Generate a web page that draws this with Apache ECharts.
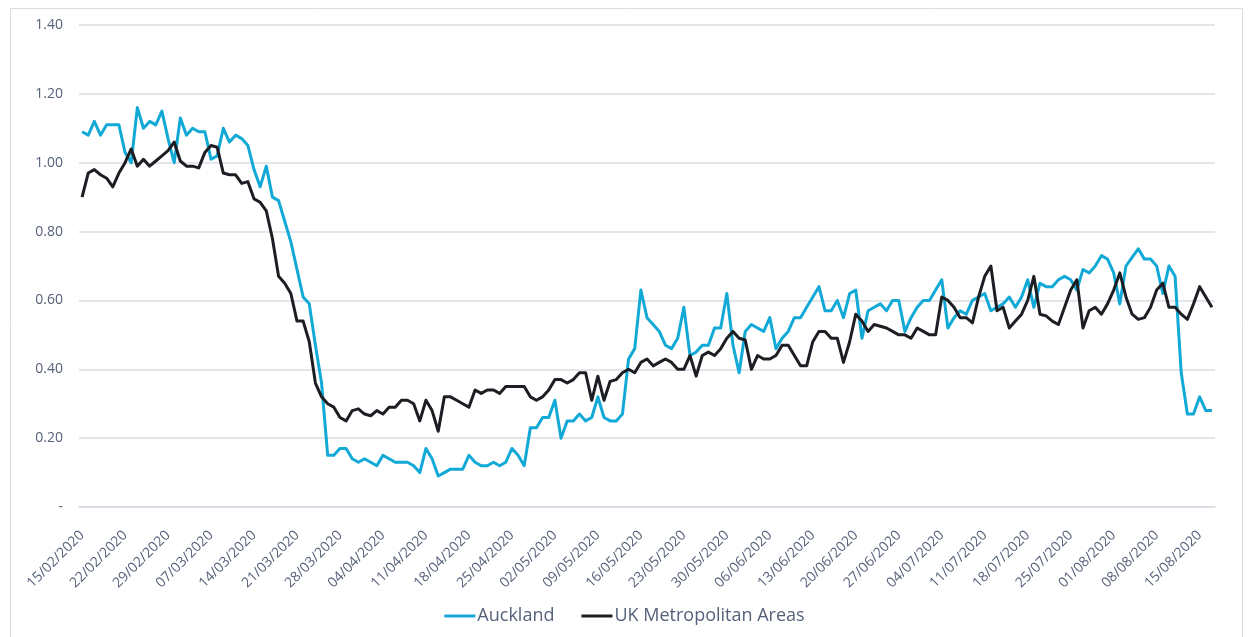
<!DOCTYPE html>
<html>
<head>
<meta charset="utf-8">
<script src="https://cdn.jsdelivr.net/npm/echarts@6/dist/echarts.min.js"></script>
<style>
  html, body { margin: 0; padding: 0; background: #fff; }
  #chart { width: 1249px; height: 637px; }
</style>
</head>
<body>
<div id="chart"></div>
<script>
// daily values, 15/02/2020 -> 17/08/2020
var startDate = [2020, 1, 15];
var auckland = [
    1.09, 1.08, 1.12, 1.08, 1.11, 1.11, 1.11, 1.03, 1.00, 1.16,
    1.10, 1.12, 1.11, 1.15, 1.07, 1.00, 1.13, 1.08, 1.10, 1.09,
    1.09, 1.01, 1.02, 1.10, 1.06, 1.08, 1.07, 1.05, 0.98, 0.93,
    0.99, 0.90, 0.89, 0.83, 0.77, 0.69, 0.61, 0.59, 0.47, 0.36,
    0.15, 0.15, 0.17, 0.17, 0.14, 0.13, 0.14, 0.13, 0.12, 0.15,
    0.14, 0.13, 0.13, 0.13, 0.12, 0.10, 0.17, 0.14, 0.09, 0.10,
    0.11, 0.11, 0.11, 0.15, 0.13, 0.12, 0.12, 0.13, 0.12, 0.13,
    0.17, 0.15, 0.12, 0.23, 0.23, 0.26, 0.26, 0.31, 0.20, 0.25,
    0.25, 0.27, 0.25, 0.26, 0.32, 0.26, 0.25, 0.25, 0.27, 0.43,
    0.46, 0.63, 0.55, 0.53, 0.51, 0.47, 0.46, 0.49, 0.58, 0.44,
    0.45, 0.47, 0.47, 0.52, 0.52, 0.62, 0.47, 0.39, 0.51, 0.53,
    0.52, 0.51, 0.55, 0.46, 0.49, 0.51, 0.55, 0.55, 0.58, 0.61,
    0.64, 0.57, 0.57, 0.60, 0.55, 0.62, 0.63, 0.49, 0.57, 0.58,
    0.59, 0.57, 0.60, 0.60, 0.51, 0.55, 0.58, 0.60, 0.60, 0.63,
    0.66, 0.52, 0.55, 0.57, 0.56, 0.60, 0.61, 0.62, 0.57, 0.58,
    0.59, 0.61, 0.58, 0.61, 0.66, 0.58, 0.65, 0.64, 0.64, 0.66,
    0.67, 0.66, 0.63, 0.69, 0.68, 0.70, 0.73, 0.72, 0.68, 0.59,
    0.70, 0.725, 0.75, 0.72, 0.72, 0.70, 0.62, 0.70, 0.67, 0.39,
    0.27, 0.27, 0.32, 0.28, 0.28
];
var ukMetro = [
    0.90, 0.97, 0.98, 0.965, 0.955, 0.93, 0.97, 1.00, 1.04, 0.99,
    1.01, 0.99, 1.005, 1.02, 1.035, 1.06, 1.005, 0.99, 0.99, 0.985,
    1.03, 1.05, 1.045, 0.97, 0.965, 0.965, 0.94, 0.945, 0.895, 0.885,
    0.86, 0.78, 0.67, 0.65, 0.62, 0.54, 0.54, 0.48, 0.36, 0.32,
    0.30, 0.29, 0.26, 0.25, 0.28, 0.285, 0.27, 0.265, 0.28, 0.27,
    0.29, 0.29, 0.31, 0.31, 0.30, 0.25, 0.31, 0.28, 0.22, 0.32,
    0.32, 0.31, 0.30, 0.29, 0.34, 0.33, 0.34, 0.34, 0.33, 0.35,
    0.35, 0.35, 0.35, 0.32, 0.31, 0.32, 0.34, 0.37, 0.37, 0.36,
    0.37, 0.39, 0.39, 0.31, 0.38, 0.31, 0.365, 0.37, 0.39, 0.40,
    0.39, 0.42, 0.43, 0.41, 0.42, 0.43, 0.42, 0.40, 0.40, 0.44,
    0.38, 0.44, 0.45, 0.44, 0.46, 0.49, 0.51, 0.49, 0.485, 0.40,
    0.44, 0.43, 0.43, 0.44, 0.47, 0.47, 0.44, 0.41, 0.41, 0.48,
    0.51, 0.51, 0.49, 0.49, 0.42, 0.48, 0.56, 0.54, 0.51, 0.53,
    0.525, 0.52, 0.51, 0.50, 0.50, 0.49, 0.52, 0.51, 0.50, 0.50,
    0.61, 0.60, 0.58, 0.55, 0.55, 0.535, 0.61, 0.67, 0.70, 0.57,
    0.58, 0.52, 0.54, 0.56, 0.60, 0.67, 0.56, 0.555, 0.54, 0.53,
    0.58, 0.63, 0.66, 0.52, 0.57, 0.58, 0.56, 0.59, 0.63, 0.68,
    0.61, 0.56, 0.545, 0.55, 0.58, 0.63, 0.65, 0.58, 0.58, 0.56,
    0.545, 0.59, 0.64, 0.61, 0.58
];
var seriesNames = ['Auckland', 'UK Metropolitan Areas'];
var seriesColors = ['#12a9d7', '#1c1e23'];

// date labels dd/mm/yyyy, one per day
function pad(n) { return n < 10 ? '0' + n : '' + n; }
var dates = [];
for (var i = 0; i < auckland.length; i++) {
    var d = new Date(startDate[0], startDate[1], startDate[2] + i);
    dates.push(pad(d.getDate()) + '/' + pad(d.getMonth() + 1) + '/' + d.getFullYear());
}

var textColor = '#56617a';
var lineGray = '#d9dde3';

var chart = echarts.init(document.getElementById('chart'));
var option = {
    backgroundColor: '#fff',
    textStyle: { fontFamily: 'Open Sans' },
    graphic: [{
        type: 'rect',
        shape: { x: 10.5, y: 8.5, width: 1232, height: 640 },
        style: { fill: null, stroke: '#d9dde3', lineWidth: 1 },
        silent: true
    }],
    grid: {
        left: 79,
        right: 34,
        top: 25,
        bottom: 130
    },
    legend: {
        bottom: 7,
        left: 'center',
        icon: 'rect',
        itemWidth: 31,
        itemHeight: 3,
        itemGap: 27,
        data: seriesNames,
        textStyle: { color: textColor, fontSize: 18, fontFamily: 'Open Sans', padding: [0, 0, 0, -3] }
    },
    xAxis: {
        type: 'category',
        data: dates,
        boundaryGap: true,
        axisLine: { lineStyle: { color: lineGray, width: 1.5 } },
        axisTick: { interval: 6, length: 5, lineStyle: { color: lineGray, width: 1.5 } },
        axisLabel: {
            interval: 6,
            rotate: 45,
            margin: 26,
            color: textColor,
            fontSize: 14,
            fontFamily: 'Open Sans'
        },
        splitLine: { show: false }
    },
    yAxis: {
        type: 'value',
        min: 0,
        max: 1.4,
        interval: 0.2,
        axisLine: { show: false },
        axisTick: { show: false },
        axisLabel: {
            margin: 16,
            color: textColor,
            fontSize: 14,
            fontFamily: 'Open Sans',
            formatter: function (v) { return v === 0 ? '-' : v.toFixed(2); }
        },
        splitLine: { lineStyle: { color: lineGray, width: 1.5 } }
    },
    series: [
        {
            name: seriesNames[0],
            type: 'line',
            data: auckland,
            showSymbol: false,
            color: seriesColors[0],
            lineStyle: { width: 3, color: seriesColors[0], join: 'round' }
        },
        {
            name: seriesNames[1],
            type: 'line',
            data: ukMetro,
            showSymbol: false,
            color: seriesColors[1],
            lineStyle: { width: 3, color: seriesColors[1], join: 'round' }
        }
    ]
};
chart.setOption(option);
</script>
</body>
</html>
